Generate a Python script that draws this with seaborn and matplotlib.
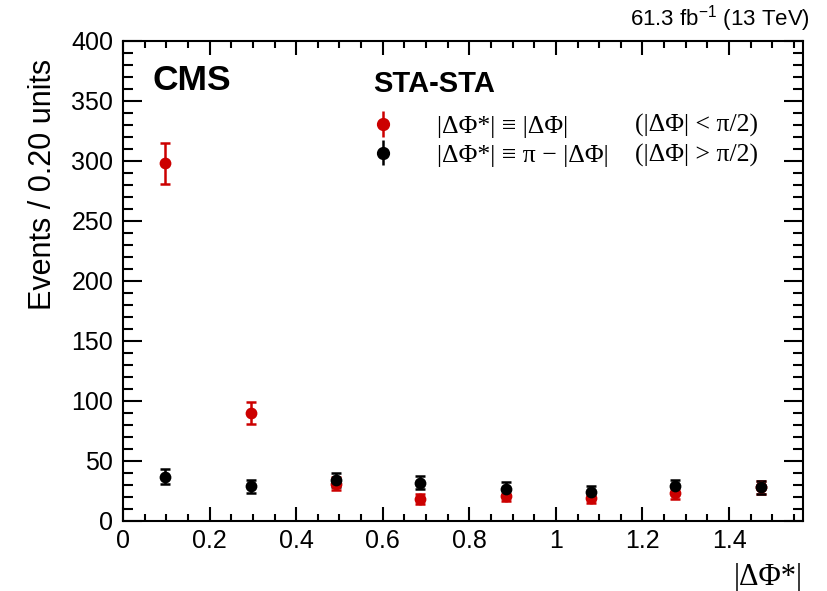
import numpy as np
import pandas as pd
import matplotlib
matplotlib.use("Agg")
import matplotlib.pyplot as plt
from matplotlib.ticker import MultipleLocator, FuncFormatter
import seaborn as sns

# Bin centres of |dPhi*| (8 bins of width pi/16 over [0, pi/2])
bin_centers = [0.098, 0.295, 0.491, 0.687, 0.884, 1.080, 1.276, 1.473]
# Event counts per bin
counts_lt = [298, 90, 31, 18, 21, 19, 23, 28]   # |dPhi| < pi/2
counts_gt = [37, 29, 34, 32, 27, 24, 29, 28]    # |dPhi| > pi/2

series_labels = ["|ΔΦ*| ≡ |ΔΦ|", "|ΔΦ*| ≡ π − |ΔΦ|"]
series_conditions = ["(|ΔΦ| < π/2)", "(|ΔΦ| > π/2)"]
colors = ["#cc0000", "#000000"]

df = pd.DataFrame({
    "x": bin_centers * 2,
    "n": counts_lt + counts_gt,
    "series": [series_labels[0]] * len(bin_centers) + [series_labels[1]] * len(bin_centers),
})
df["err"] = np.sqrt(df["n"])

sns.set_theme(style="ticks")
plt.rcParams["font.family"] = ["Liberation Sans", "DejaVu Sans"]
for key in ["text.color", "axes.labelcolor", "xtick.color", "ytick.color", "axes.edgecolor"]:
    plt.rcParams[key] = "black"

fig = plt.figure(figsize=(8.28, 5.91), dpi=100)
ax = fig.add_axes([123 / 828, 1 - 521 / 591, 680 / 828, 480 / 591])

handles = []
for lab, col in zip(series_labels, colors):
    sub = df[df["series"] == lab]
    ax.errorbar(sub["x"], sub["n"], yerr=sub["err"], fmt="none",
                ecolor=col, elinewidth=1.8, capsize=3.5, capthick=1.8, zorder=3)
    sns.scatterplot(data=sub, x="x", y="n", color=col, s=72, edgecolor=col,
                    linewidth=0, ax=ax, zorder=4, legend=False)
    h = ax.errorbar([], [], yerr=[], fmt="o", color=col, ms=8.5,
                    elinewidth=1.8, capsize=3.5, capthick=1.8)
    handles.append(h)

ax.set_xlim(0, np.pi / 2)
ax.set_ylim(0, 400)

ax.xaxis.set_major_locator(MultipleLocator(0.2))
ax.xaxis.set_minor_locator(MultipleLocator(0.05))
ax.yaxis.set_major_locator(MultipleLocator(50))
ax.yaxis.set_minor_locator(MultipleLocator(10))
ax.xaxis.set_major_formatter(FuncFormatter(lambda v, p: f"{v:g}"))

for side in ["top", "right", "bottom", "left"]:
    ax.spines[side].set_visible(True)
    ax.spines[side].set_linewidth(1.5)

ax.tick_params(axis="both", which="both", direction="in", top=True, right=True,
               width=1.5, labelsize=18)
ax.tick_params(axis="y", which="major", length=14, pad=7)
ax.tick_params(axis="y", which="minor", length=7)
ax.tick_params(axis="x", which="major", length=10, pad=6)
ax.tick_params(axis="x", which="minor", length=5)

ax.set_xlabel("")
ax.set_ylabel("")
fig.text(43 / 828, 1 - 59 / 591, "Events / 0.20 units", fontsize=22,
         rotation=90, ha="center", va="top")
fig.text(803 / 828, 1 - 577 / 591, "|ΔΦ*|", fontsize=22, ha="right", va="center",
         family=["Liberation Serif", "DejaVu Serif"])

fig.text(152 / 828, 1 - 80 / 591, "CMS", fontsize=25.5, fontweight="bold",
         ha="left", va="center")
fig.text(810 / 828, 1 - 19 / 591, r"61.3 fb$^{\mathregular{-1}}$ (13 TeV)",
         fontsize=16, ha="right", va="center")
fig.text(373 / 828, 1 - 84 / 591, "STA-STA", fontsize=21, fontweight="bold",
         ha="left", va="center")

legend_font = {"family": ["Liberation Serif", "DejaVu Serif"], "size": 18.5}
leg = ax.legend(handles, series_labels, loc="upper left",
                bbox_to_anchor=(370 / 828, 1 - 115 / 591), bbox_transform=fig.transFigure,
                frameon=False, handlelength=1.0, handletextpad=1.6,
                labelspacing=0.22, borderaxespad=0, borderpad=0, prop=legend_font)
for txt, y in zip(series_conditions, [125, 155]):
    fig.text(635 / 828, 1 - y / 591, txt, ha="left", va="center", fontsize=18.5,
             family=["Liberation Serif", "DejaVu Serif"])

fig.savefig("out.png", dpi=100)
